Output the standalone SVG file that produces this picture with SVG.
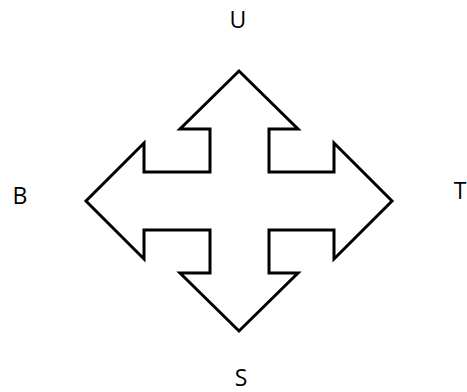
<svg xmlns="http://www.w3.org/2000/svg" width="467" height="392" viewBox="0 0 467 392">
<style>
.lbl{font-family:"Open Sans","Liberation Sans",sans-serif;font-size:23px;fill:#000;text-anchor:middle}
.arrow{fill:#fff;stroke:#000;stroke-width:3;stroke-linejoin:miter}
</style>
<rect width="467" height="392" fill="#fff"/>
<g id="quad-arrow">
<path class="arrow" d="M239,71 L298,129 L269,129 L269,172 L334,172 L334,143 L392,201 L334,259 L334,230 L269,230 L269,273 L298,273 L239,331 L180,273 L210,273 L210,230 L144,230 L144,259 L86,201 L144,143 L144,172 L210,172 L210,129 L180,129 Z"/>
</g>
<g id="label-U"><text class="lbl" x="238" y="28">U</text></g>
<g id="label-B"><text class="lbl" x="20" y="204">B</text></g>
<g id="label-T"><text class="lbl" x="460" y="199">T</text></g>
<g id="label-S"><text class="lbl" x="241" y="386">S</text></g>
</svg>
